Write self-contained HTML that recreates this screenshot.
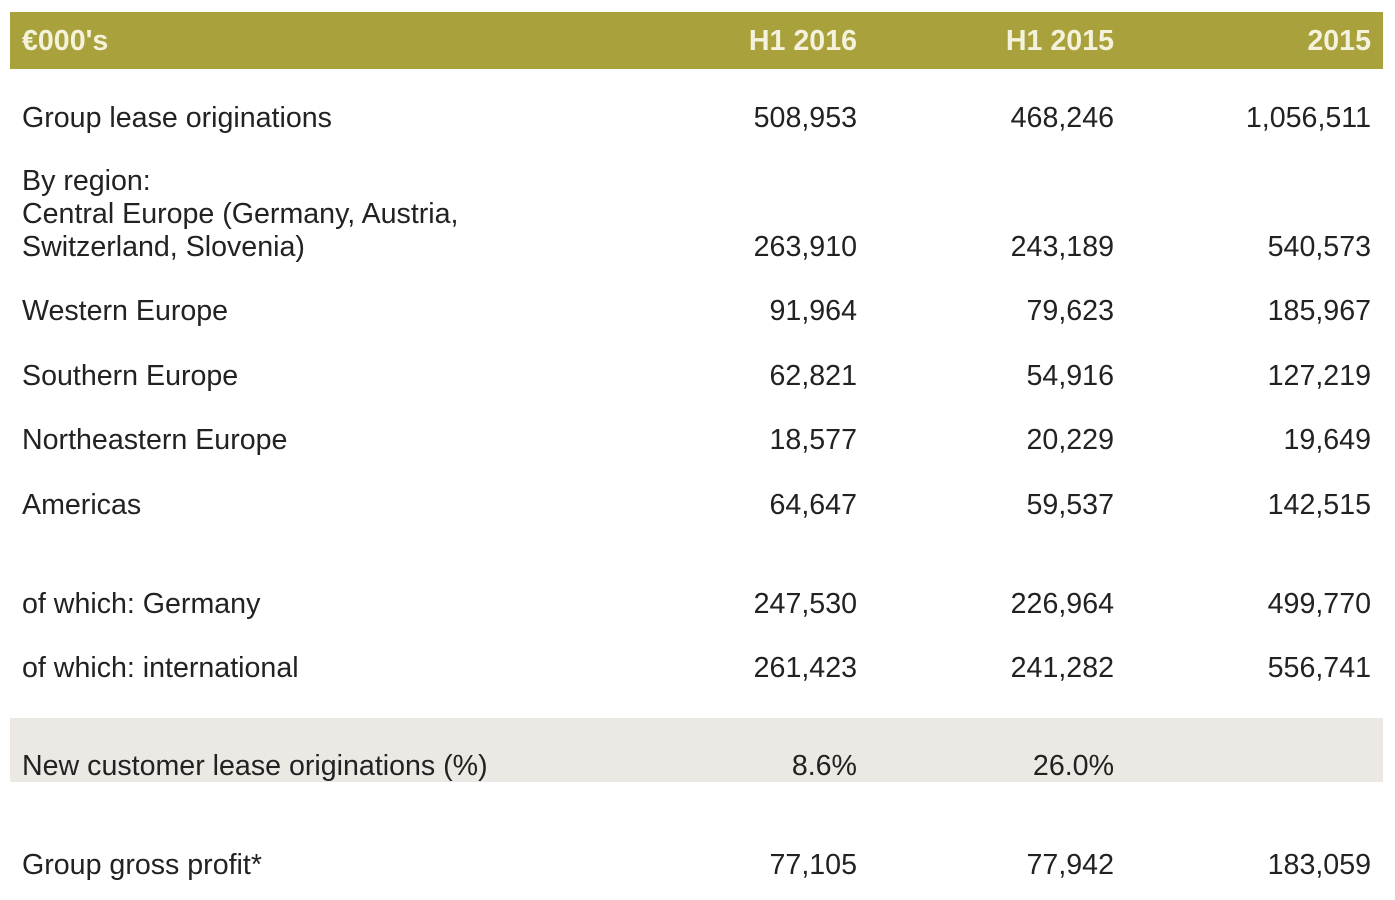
<!DOCTYPE html>
<html><head><meta charset="utf-8"><style>
body{margin:0;width:1395px;height:900px;background:#fff;position:relative;overflow:hidden;font-family:"Liberation Sans",Arial,sans-serif;color:#222;}
.hdr{position:absolute;left:10px;top:12px;width:1373px;height:57px;background:#a9a23c;}
.band{position:absolute;left:10px;top:718px;width:1373px;height:64px;background:#ece9e4;}
.t{position:absolute;font-size:28.6px;line-height:32px;white-space:nowrap;}
.h{color:#f4f1dc;font-weight:bold;}
.l{left:22px;}
.c1,.c2,.c3{text-align:right;width:300px;}
.c1{left:557px;}.c2{left:814px;}.c3{left:1071px;}
</style></head><body>
<div class="hdr"></div><div class="band"></div>
<div class="t h l" style="top:25px">€000's</div>
<div class="t h c1" style="top:25px">H1 2016</div>
<div class="t h c2" style="top:25px">H1 2015</div>
<div class="t h c3" style="top:25px">2015</div>

<div class="t l" style="top:102px">Group lease originations</div>
<div class="t c1" style="top:102px">508,953</div><div class="t c2" style="top:102px">468,246</div><div class="t c3" style="top:102px">1,056,511</div>

<div class="t l" style="top:165px">By region:</div>
<div class="t l" style="top:198px">Central Europe (Germany, Austria,</div>
<div class="t l" style="top:231px">Switzerland, Slovenia)</div>
<div class="t c1" style="top:231px">263,910</div><div class="t c2" style="top:231px">243,189</div><div class="t c3" style="top:231px">540,573</div>

<div class="t l" style="top:295px">Western Europe</div>
<div class="t c1" style="top:295px">91,964</div><div class="t c2" style="top:295px">79,623</div><div class="t c3" style="top:295px">185,967</div>

<div class="t l" style="top:360px">Southern Europe</div>
<div class="t c1" style="top:360px">62,821</div><div class="t c2" style="top:360px">54,916</div><div class="t c3" style="top:360px">127,219</div>

<div class="t l" style="top:424px">Northeastern Europe</div>
<div class="t c1" style="top:424px">18,577</div><div class="t c2" style="top:424px">20,229</div><div class="t c3" style="top:424px">19,649</div>

<div class="t l" style="top:489px">Americas</div>
<div class="t c1" style="top:489px">64,647</div><div class="t c2" style="top:489px">59,537</div><div class="t c3" style="top:489px">142,515</div>

<div class="t l" style="top:588px">of which: Germany</div>
<div class="t c1" style="top:588px">247,530</div><div class="t c2" style="top:588px">226,964</div><div class="t c3" style="top:588px">499,770</div>

<div class="t l" style="top:652px">of which: international</div>
<div class="t c1" style="top:652px">261,423</div><div class="t c2" style="top:652px">241,282</div><div class="t c3" style="top:652px">556,741</div>

<div class="t l" style="top:750px">New customer lease originations (%)</div>
<div class="t c1" style="top:750px">8.6%</div><div class="t c2" style="top:750px">26.0%</div>

<div class="t l" style="top:849px">Group gross profit*</div>
<div class="t c1" style="top:849px">77,105</div><div class="t c2" style="top:849px">77,942</div><div class="t c3" style="top:849px">183,059</div>
</body></html>
